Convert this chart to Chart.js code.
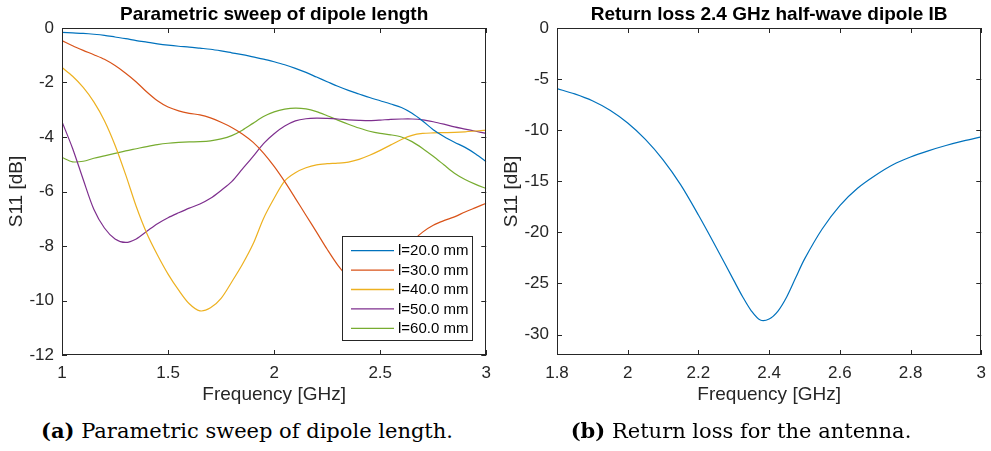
<!DOCTYPE html>
<html><head><meta charset="utf-8">
<script src="https://cdn.jsdelivr.net/npm/chart.js@4.4.1/dist/chart.umd.min.js"></script>
<style>
html,body{margin:0;padding:0;background:#fff;width:991px;height:451px;overflow:hidden;position:relative;}
.wrap{position:absolute;top:0;height:410px;}
#wa{left:0;width:499px;}
#wb{left:495px;width:499px;}
.cap{position:absolute;top:418px;font-family:"DejaVu Serif",serif;font-size:21px;line-height:26px;color:#000;white-space:nowrap;transform:translateX(-50%);}
</style></head><body>
<div class="wrap" id="wa"><canvas id="ca" width="499" height="410"></canvas></div>
<div class="wrap" id="wb"><canvas id="cb" width="499" height="410"></canvas></div>
<div class="cap" style="left:247px"><b>(a)</b> Parametric sweep of dipole length.</div>
<div class="cap" style="left:741px"><b>(b)</b> Return loss for the antenna.</div>
<script>
// ---- data (left: parametric sweep) ----
const freqA = [1.00,1.05,1.10,1.15,1.20,1.25,1.30,1.35,1.40,1.45,1.50,1.55,1.60,1.65,1.70,1.75,1.80,1.85,1.90,1.95,2.00,2.05,2.10,2.15,2.20,2.25,2.30,2.35,2.40,2.45,2.50,2.55,2.60,2.65,2.70,2.75,2.80,2.85,2.90,2.95,3.00];
const l20 = [-0.16,-0.18,-0.20,-0.23,-0.27,-0.33,-0.39,-0.46,-0.52,-0.58,-0.63,-0.67,-0.70,-0.74,-0.78,-0.84,-0.91,-0.98,-1.06,-1.14,-1.24,-1.35,-1.48,-1.63,-1.80,-1.97,-2.14,-2.29,-2.42,-2.55,-2.67,-2.79,-2.92,-3.13,-3.41,-3.73,-3.98,-4.19,-4.38,-4.62,-4.91];
const l30 = [-0.46,-0.65,-0.82,-0.98,-1.15,-1.38,-1.66,-1.98,-2.35,-2.67,-2.90,-3.04,-3.13,-3.19,-3.30,-3.46,-3.65,-3.89,-4.19,-4.59,-5.08,-5.64,-6.25,-6.87,-7.49,-8.12,-8.70,-9.15,-9.42,-9.52,-9.40,-9.05,-8.50,-7.86,-7.49,-7.24,-7.07,-6.93,-6.75,-6.59,-6.43];
const l40 = [-1.45,-1.77,-2.18,-2.71,-3.40,-4.30,-5.38,-6.55,-7.54,-8.33,-9.03,-9.62,-10.12,-10.38,-10.27,-9.92,-9.32,-8.68,-7.94,-6.99,-6.25,-5.61,-5.31,-5.13,-5.02,-4.98,-4.96,-4.92,-4.82,-4.67,-4.49,-4.29,-4.09,-3.94,-3.87,-3.85,-3.84,-3.83,-3.81,-3.78,-3.75];
const l50 = [-3.44,-4.42,-5.56,-6.65,-7.34,-7.74,-7.87,-7.74,-7.46,-7.18,-6.96,-6.78,-6.61,-6.46,-6.25,-5.96,-5.64,-5.18,-4.72,-4.24,-3.88,-3.60,-3.41,-3.33,-3.31,-3.32,-3.34,-3.37,-3.39,-3.40,-3.38,-3.35,-3.34,-3.34,-3.37,-3.44,-3.53,-3.63,-3.71,-3.79,-3.87];
const l60 = [-4.75,-4.91,-4.89,-4.78,-4.69,-4.60,-4.51,-4.43,-4.35,-4.28,-4.23,-4.20,-4.18,-4.17,-4.14,-4.07,-3.95,-3.75,-3.50,-3.25,-3.08,-2.98,-2.94,-2.97,-3.07,-3.22,-3.38,-3.53,-3.67,-3.79,-3.87,-3.92,-4.00,-4.17,-4.42,-4.71,-5.02,-5.33,-5.56,-5.74,-5.89];
const seriesLabels = ['l=20.0 mm','l=30.0 mm','l=40.0 mm','l=50.0 mm','l=60.0 mm'];
// ---- data (right: return loss) ----
const freqB = [1.80,1.85,1.90,1.95,2.00,2.05,2.10,2.15,2.20,2.25,2.30,2.325,2.35,2.375,2.40,2.425,2.45,2.475,2.50,2.55,2.60,2.65,2.70,2.75,2.80,2.85,2.90,2.95,3.00];
const s11 = [-5.93,-6.45,-7.12,-8.05,-9.30,-10.90,-12.90,-15.35,-18.30,-21.45,-24.70,-26.30,-27.70,-28.58,-28.48,-27.70,-26.30,-24.45,-22.62,-19.67,-17.38,-15.69,-14.44,-13.39,-12.63,-12.02,-11.50,-11.05,-10.66];

const COLORS = ['#0072BD','#D95319','#EDB120','#7E2F8E','#77AC30'];
const AX = '#262626';
Chart.defaults.font.family = '"Liberation Sans", Arial, Helvetica, sans-serif';
Chart.defaults.color = AX;

const framePlugin = {
  id: 'matlabFrame',
  afterDatasetsDraw(chart) {
    const {ctx, chartArea: a, scales: {x, y}} = chart;
    const L = 5;
    ctx.save();
    ctx.strokeStyle = AX; ctx.lineWidth = 1;
    ctx.beginPath();
    x.ticks.forEach(t => {
      const p = Math.round(x.getPixelForValue(t.value)) + 0.5;
      ctx.moveTo(p, a.bottom); ctx.lineTo(p, a.bottom - L);
      ctx.moveTo(p, a.top); ctx.lineTo(p, a.top + L);
    });
    y.ticks.forEach(t => {
      const p = Math.round(y.getPixelForValue(t.value)) + 0.5;
      ctx.moveTo(a.left, p); ctx.lineTo(a.left + L, p);
      ctx.moveTo(a.right, p); ctx.lineTo(a.right - L, p);
    });
    ctx.stroke();
    ctx.strokeRect(Math.round(a.left) + 0.5, Math.round(a.top) + 0.5, Math.round(a.right - a.left) - 1, Math.round(a.bottom - a.top) - 1);
    ctx.restore();
  }
};

const boxLegendPlugin = {
  id: 'boxLegend',
  afterDatasetsDraw(chart, args, opts) {
    if (!opts || !opts.show) return;
    const {ctx, chartArea: a} = chart;
    const w = opts.width, h = opts.height;
    const x0 = Math.round(a.right - opts.right - w), y0 = Math.round(a.bottom - opts.bottom - h);
    ctx.save();
    ctx.fillStyle = '#fff';
    ctx.fillRect(x0, y0, w, h);
    ctx.strokeStyle = AX; ctx.lineWidth = 1;
    ctx.strokeRect(x0 + 0.5, y0 + 0.5, w - 1, h - 1);
    ctx.font = '15px "Liberation Sans", Arial, sans-serif';
    ctx.textBaseline = 'middle'; ctx.textAlign = 'left';
    chart.data.datasets.forEach((ds, i) => {
      const cy = y0 + opts.firstRow + i * opts.rowGap;
      ctx.strokeStyle = ds.borderColor; ctx.lineWidth = 1.3;
      ctx.beginPath(); ctx.moveTo(x0 + 9, cy); ctx.lineTo(x0 + 52, cy); ctx.stroke();
      ctx.fillStyle = '#000';
      ctx.fillText(ds.label, x0 + 56, cy + 0.5);
    });
    ctx.restore();
  }
};

function xy(xs, ys) { return xs.map((v, i) => ({x: v, y: ys[i]})); }
const numFmt = v => String(Math.round(v * 1000) / 1000);

function makeOptions(cfg) {
  return {
    responsive: false,
    animation: false,
    layout: {autoPadding: false, padding: {left: 0, right: cfg.padRight, top: 0, bottom: 0}},
    elements: {point: {radius: 0}, line: {borderWidth: 1.2, tension: 0.3}},
    plugins: {
      legend: {display: false},
      tooltip: {enabled: false},
      title: {display: true, text: cfg.title, fullSize: false, color: '#000',
              font: {size: 19, weight: 'bold'}, padding: {top: 3, bottom: 2.2}},
      boxLegend: cfg.legend || {show: false}
    },
    scales: {
      x: {type: 'linear', min: cfg.xmin, max: cfg.xmax,
          ticks: {stepSize: cfg.xstep, font: {size: 17}, color: AX, padding: 8, maxRotation: 0, autoSkip: false, callback: numFmt},
          grid: {display: false, drawTicks: false},
          border: {display: false},
          title: {display: true, text: 'Frequency [GHz]', font: {size: 19}, color: AX, padding: {top: 0, bottom: 3.6}},
          afterFit(s) { s.height = 55; }},
      y: {type: 'linear', min: cfg.ymin, max: cfg.ymax,
          ticks: {stepSize: cfg.ystep, font: {size: 17}, color: AX, padding: 8, autoSkip: false, callback: numFmt},
          grid: {display: false, drawTicks: false},
          border: {display: false},
          title: {display: true, text: 'S11 [dB]', font: {size: 19}, color: AX, padding: {top: 5.6, bottom: 0}},
          afterBuildTicks(s) { s.ticks = s.ticks.filter(t => Math.abs(t.value / cfg.ystep - Math.round(t.value / cfg.ystep)) < 1e-6); },
          afterFit(s) { s.width = 62; }}
    }
  };
}

const dataA = [l20, l30, l40, l50, l60];
new Chart(document.getElementById('ca'), {
  type: 'line',
  data: {datasets: dataA.map((arr, i) => ({label: seriesLabels[i], data: xy(freqA, arr), borderColor: COLORS[i], backgroundColor: COLORS[i], fill: false}))},
  options: makeOptions({title: 'Parametric sweep of dipole length', xmin: 1, xmax: 3, xstep: 0.5, ymin: -12, ymax: 0, ystep: 2, padRight: 9,
    legend: {show: true, width: 131, height: 105, right: 13, bottom: 14, firstRow: 14.7, rowGap: 19.4}}),
  plugins: [framePlugin, boxLegendPlugin]
});

new Chart(document.getElementById('cb'), {
  type: 'line',
  data: {datasets: [{label: 'S11', data: xy(freqB, s11), borderColor: COLORS[0], backgroundColor: COLORS[0], fill: false}]},
  options: makeOptions({title: 'Return loss 2.4 GHz half-wave dipole IB', xmin: 1.8, xmax: 3, xstep: 0.2, ymin: -32, ymax: 0, ystep: 5, padRight: 11}),
  plugins: [framePlugin, boxLegendPlugin]
});
</script>
</body></html>
